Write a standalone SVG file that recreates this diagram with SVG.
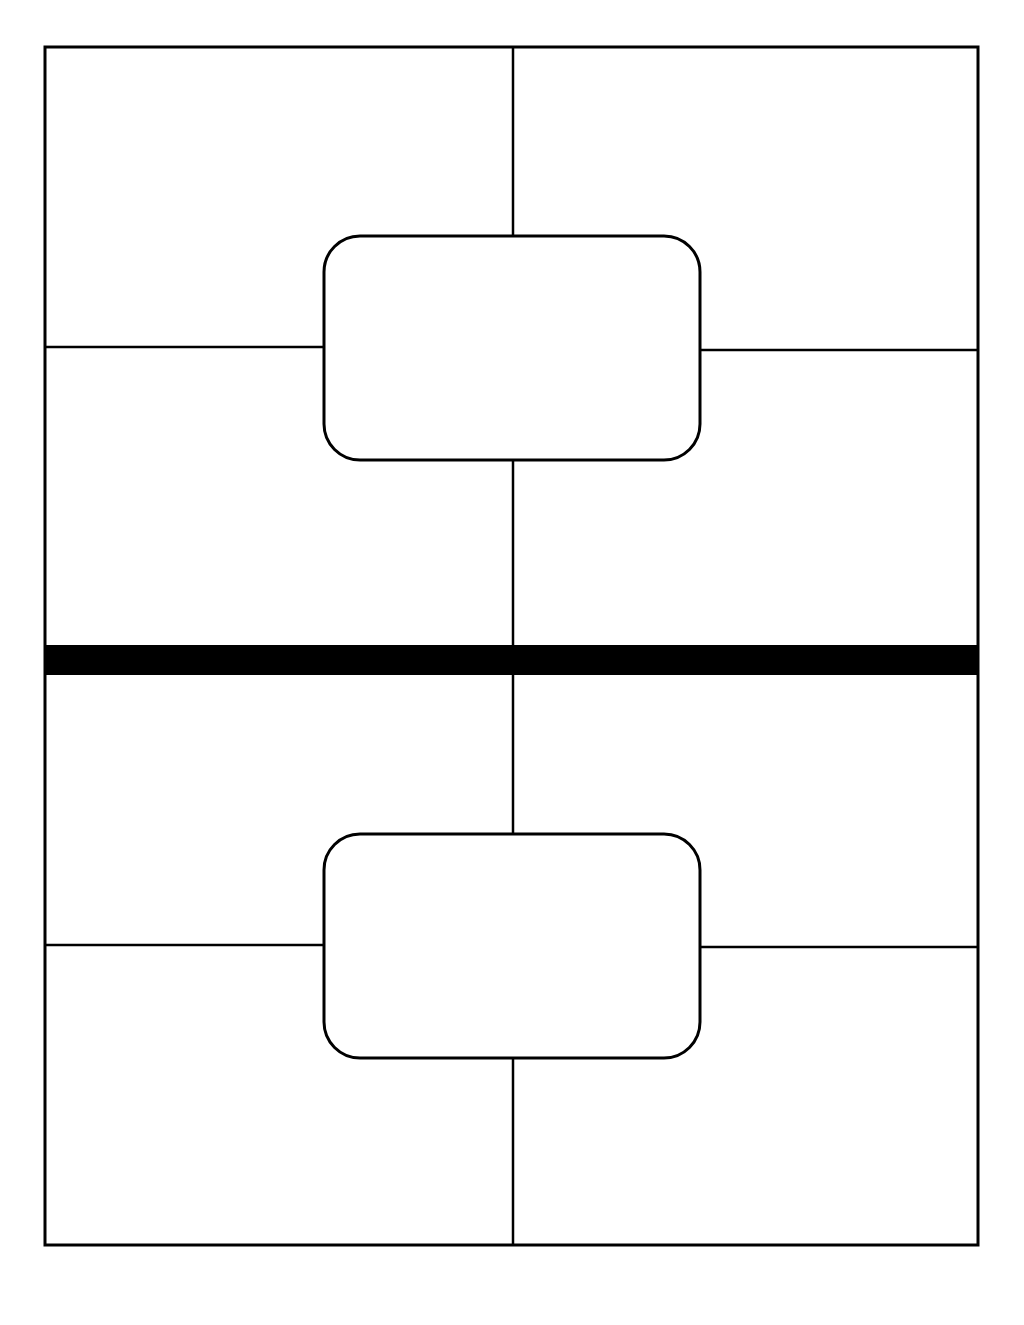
<svg xmlns="http://www.w3.org/2000/svg" width="1024" height="1325" viewBox="0 0 1024 1325">
<style>
.ln{stroke:#000;stroke-width:2.5;fill:none}
.box{fill:#fff;stroke:#000;stroke-width:3}
</style>
<rect width="1024" height="1325" fill="#fff"/>
<g id="connectors">
<line class="ln" x1="513" y1="47" x2="513" y2="236"/>
<line class="ln" x1="45" y1="347" x2="324" y2="347"/>
<line class="ln" x1="700" y1="350" x2="978" y2="350"/>
<line class="ln" x1="513" y1="460" x2="513" y2="645"/>
<line class="ln" x1="513" y1="675" x2="513" y2="834"/>
<line class="ln" x1="45" y1="945" x2="324" y2="945"/>
<line class="ln" x1="700" y1="947" x2="978" y2="947"/>
<line class="ln" x1="513" y1="1058" x2="513" y2="1245"/>
</g>
<g id="frame">
<rect x="45" y="47" width="933" height="1198" fill="none" stroke="#000" stroke-width="3"/>
<rect x="45" y="645" width="933" height="30" fill="#000"/>
</g>
<g id="node1"><rect class="box" x="324" y="236" width="376" height="224" rx="36" ry="36"/></g>
<g id="node2"><rect class="box" x="324" y="834" width="376" height="224" rx="36" ry="36"/></g>
</svg>
